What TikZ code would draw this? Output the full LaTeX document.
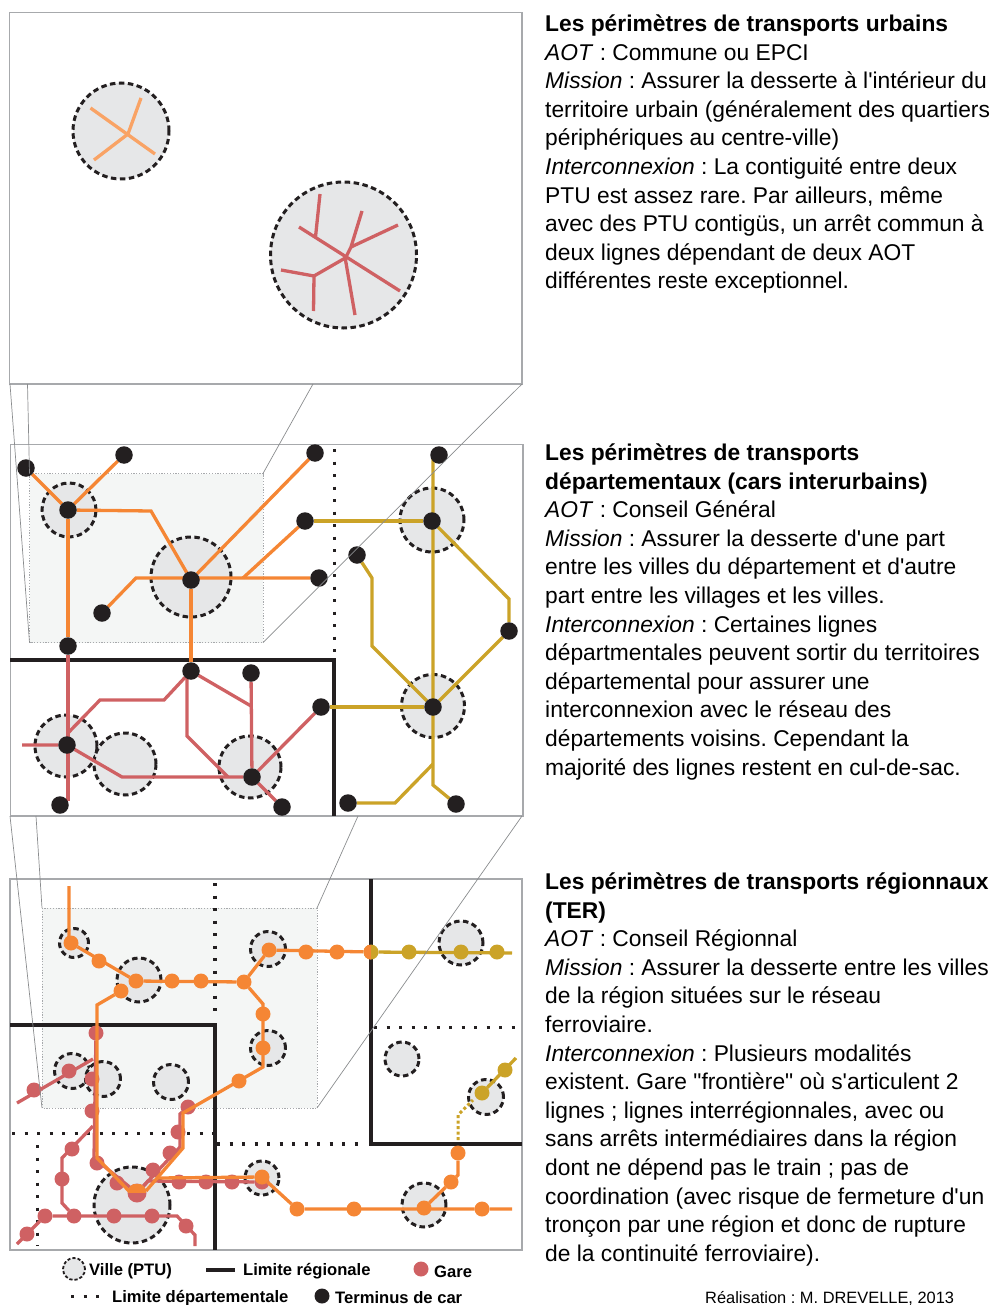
\documentclass[tikz,border=0pt]{standalone}
\usepackage{fontspec}
\setmainfont{Liberation Sans}[Ligatures=TeXOff]
\definecolor{noir}{HTML}{231F20}
\definecolor{cadre}{HTML}{A7A9AC}
\definecolor{trait}{HTML}{8A8C8E}
\definecolor{gris}{HTML}{E6E7E8}
\definecolor{clair}{HTML}{F4F6F5}
\definecolor{ptu}{HTML}{F9A365}
\definecolor{dept}{HTML}{F58634}
\definecolor{rouge}{HTML}{CF6163}
\definecolor{jaune}{HTML}{CBA328}
\pgfdeclarelayer{fond}
\pgfdeclarelayer{lignes}
\pgfsetlayers{fond,lignes,main}
\tikzset{
	panneau/.style={draw=cadre,line width=1.1pt},
	zone/.style={draw=cadre,fill=clair,line width=0.9pt,dash pattern=on 1.2pt off 1.6pt},
	zoomline/.style={draw=trait,line width=0.7pt},
	ville/.style={circle,draw=noir,fill=gris,line width=3pt,dash pattern=on 5.5pt off 3.5pt,minimum size=#1,inner sep=0pt,outer sep=0pt},
	region/.style={draw=noir,line width=3.4pt},
	limite/.style={draw=noir,line width=3.4pt,dash pattern=on 3.4pt off 9.1pt},
	terminus/.style={circle,fill=noir,minimum size=17.5pt,inner sep=0pt,outer sep=0pt},
	gare/.style={circle,fill=#1,minimum size=15pt,inner sep=0pt,outer sep=0pt},
	ligne/.style={draw=#1,line width=3.3pt,line join=miter},
	bloc/.style={anchor=north west,align=left,inner sep=0pt,font=\fontsize{22.8}{28.6}\selectfont\frenchspacing},
	legende/.style={anchor=west,inner sep=0pt,font=\fontsize{16.6}{20}\selectfont\bfseries}
}
\begin{document}
\begin{tikzpicture}[x=1pt,y=-1pt]
	\useasboundingbox (0,0) rectangle (993,1305);

	\begin{pgfonlayer}{fond}
		\draw[panneau] (9.5,12.5) rectangle (522,384);
		\node[ville=96pt] (ca) at (121,131) {};
		\node[ville=146pt] (cb) at (343.5,255) {};

		\draw[panneau] (10.5,444.5) rectangle (523,816);
		\draw[zone] (29.5,473.5) rectangle (263,642.5);
		\node[ville=54pt] (cc) at (69,510) {};
		\node[ville=80pt] (cd) at (191,577) {};
		\node[ville=64pt] (ce) at (432,520) {};
		\node[ville=63pt] (cf) at (433,706) {};
		\node[ville=62pt] (cg) at (66,746) {};
		\node[ville=62pt] (ch) at (125,764) {};
		\node[ville=62pt] (ci) at (250,767) {};
		\draw[region] (10,660) -- (334,660) -- (334,816);
		\draw[limite] (334.5,449) -- (334.5,656);

		\draw[panneau] (10,879) rectangle (522,1250);
		\draw[zone] (42,908) rectangle (317,1108);
		\node[ville=29pt] (cj) at (74,943) {};
		\node[ville=44pt] (ck) at (139,980) {};
		\node[ville=35pt] (cl) at (72,1071) {};
		\node[ville=35pt] (cm) at (103,1079) {};
		\node[ville=35pt] (cn) at (171,1082) {};
		\node[ville=76pt] (co) at (132,1205) {};
		\node[ville=34pt] (cp) at (262,1178) {};
		\node[ville=35pt] (cq) at (268,949) {};
		\node[ville=35pt] (cr) at (268,1048) {};
		\node[ville=44pt] (cs) at (461,943) {};
		\node[ville=34pt] (ct) at (402,1059) {};
		\node[ville=35pt] (cu) at (486,1097) {};
		\node[ville=44pt] (cv) at (424,1205) {};
		\draw[region] (10,1025) -- (215,1025) -- (215,1250);
		\draw[region] (371,879) -- (371,1144) -- (522,1144);
		\draw[limite] (215,883) -- (215,1020);
		\draw[limite] (12,1133.5) -- (215,1133.5);
		\draw[limite] (37.5,1145) -- (37.5,1246);
		\draw[limite] (217,1144) -- (358,1144);
		\draw[limite] (374,1027.5) -- (516,1027.5);
	\end{pgfonlayer}

	\draw[ligne=ptu] (90.5,108) -- (155,154);
	\draw[ligne=ptu] (94,160) -- (128,134) -- (141,98);
	\draw[ligne=rouge] (299,227) -- (400,291);
	\draw[ligne=rouge] (320,194) -- (315.5,237);
	\draw[ligne=rouge] (362,211) -- (351,247) -- (346,257);
	\draw[ligne=rouge] (351,247) -- (398,225);
	\draw[ligne=rouge] (345,257) -- (355,315);
	\draw[ligne=rouge] (347,257) -- (314,276) -- (281,270);
	\draw[ligne=rouge] (314,276) -- (313.5,311);

	\foreach \name/\x/\y in {ta/26/468,tb/124/455,tc/315/453,td/68/510,te/305/521,tf/191/580,tg/319/578,th/102/613,
		ti/68/646,tj/191/671,tk/251/673,tl/321/707,tm/67/745,tn/252/777,to/60/805,tp/282/807,
		tq/357/555,tr/432/521,ts/439/455,tt/509/631,tu/433/707,tv/348/803,tw/456/804}
		\node[terminus] (\name) at (\x,\y) {};

	\begin{pgfonlayer}{lignes}
		\draw[ligne=dept] (ta) -- (td) -- (tb);
		\draw[ligne=dept] (td) -- (151,511) -- (tf);
		\draw[ligne=dept] (td) -- (ti);
		\draw[ligne=dept] (tf) -- (tc);
		\draw[ligne=dept] (th) -- (136,578) -- (tg);
		\draw[ligne=dept] (243,578) -- (te);
		\draw[ligne=dept] (tf) -- (tj);

		\draw[ligne=rouge] (ti) -- (68,801);
		\draw[ligne=rouge] (22,745) -- (tm) -- (122,777) -- (tn);
		\draw[ligne=rouge] (68,733) -- (100,700) -- (164,700) -- (tj);
		\draw[ligne=rouge] (tj) -- (187,678) -- (187,736) -- (228,777);
		\draw[ligne=rouge] (tj) -- (251,706);
		\draw[ligne=rouge] (tk) -- (tn);
		\draw[ligne=rouge] (tn) -- (tl);
		\draw[ligne=rouge] (tn) -- (tp);

		\draw[ligne=jaune] (433,459) -- (433,785) -- (tw);
		\draw[ligne=jaune] (te) -- (tr);
		\draw[ligne=jaune] (tr) -- (509,599) -- (tt) -- (tu);
		\draw[ligne=jaune] (tq) -- (372,578) -- (372,646) -- (tu);
		\draw[ligne=jaune] (tl) -- (tu);
		\draw[ligne=jaune] (tv) -- (395,803) -- (433,764);
	\end{pgfonlayer}

	\foreach \name/\x/\y in {ra/34/1090,rb/69/1071,rc/96/1033,rd/92/1079,re/92/1111,rf/97/1163,rg/117/1183,
		ri/153/1170,rj/170/1153,rk/178/1132,rl/188/1107,rm/179/1182,rn/206/1182,ro/232/1182,rp/262/1182,
		rq/72/1149,rr/62/1179,rs/74/1216,rt/45/1216,ru/114/1216,rv/152/1216,rw/186/1226,rx/27/1234}
		\node[gare=rouge] (\name) at (\x,\y) {};
	\node[gare=rouge,minimum size=19pt,path picture={\fill[dept] (path picture bounding box.north west) rectangle (path picture bounding box.east);}] (rh) at (137,1193) {};

	\begin{pgfonlayer}{lignes}
		\draw[ligne=rouge] (17,1103) -- (93,1059);
		\draw[ligne=rouge] (rc) -- (94,1158) -- (rh);
		\draw[ligne=rouge] (93,1126) -- (62,1158) -- (62,1203) -- (rs);
		\draw[ligne=rouge] (17,1244) -- (rt) -- (177,1216) -- (195,1235) -- (195,1246);
		\draw[ligne=rouge] (rl) -- (180,1114) -- (180,1147) -- (rh);
		\draw[ligne=rouge] (rh) -- (148,1181) -- (rp);
	\end{pgfonlayer}

	\foreach \name/\x/\y in {oa/71/943,ob/99/961,oc/136/981,od/121/991,oe/172/981,of/201/981,og/244/982,oh/269/950,
		oi/263/1014,oj/263/1048,ok/239/1081,ol/306/952,om/337/952,on/262/1177,oo/297/1209,op/354/1209,oq/424/1208,
		or/482/1209,os/451/1182,ot/458/1153}
		\node[gare=dept] (\name) at (\x,\y) {};
	\node[gare=jaune,path picture={\fill[dept] (path picture bounding box.north west) rectangle (path picture bounding box.south);}] (fr) at (371,952) {};
	\foreach \name/\x/\y in {ja/409/952,jb/461/952,jc/497/952,jd/482/1093,je/505/1070}
		\node[gare=jaune] (\name) at (\x,\y) {};

	\draw[ligne=dept] (69,886) -- (69,940) -- (oa) -- (oc) -- (og) -- (oh) -- (fr);
	\draw[ligne=dept] (og) -- (263,1004) -- (263,1067) -- (183,1113) -- (183,1148) -- (146,1191);
	\draw[ligne=dept] (od) -- (97,1005) -- (97,1158) -- (129,1191);
	\draw[ligne=dept] (157,1178) -- (on) -- (oo) -- (or) -- (512,1209);
	\draw[ligne=dept] (oq) -- (os) -- (458,1175) -- (ot);
	\draw[ligne=jaune] (fr) -- (512,953);
	\draw[ligne=jaune] (jd) -- (516,1058);
	\draw[line width=3pt,draw=jaune,dash pattern=on 3pt off 2.5pt] (458,1140) -- (458,1115) -- (473,1100);

	\draw[zoomline] (10,384) -- (29.5,642.5);
	\draw[zoomline] (27.5,384) -- (29.5,473.5);
	\draw[zoomline] (313,384) -- (263,473.5);
	\draw[zoomline] (522,384) -- (263,642.5);
	\draw[zoomline] (10,816) -- (42,1108);
	\draw[zoomline] (36,816) -- (42,908);
	\draw[zoomline] (358,816) -- (317,908);
	\draw[zoomline] (522,816) -- (317,1108);

	\node[bloc] (urbains) at (545,14.5) {\textbf{Les périmètres de transports urbains}\\
		\textit{AOT} : Commune ou EPCI\\
		\textit{Mission} : Assurer la desserte à l'intérieur du\\
		territoire urbain (généralement des quartiers\\
		périphériques au centre-ville)\\
		\textit{Interconnexion} : La contiguité entre deux\\
		PTU est assez rare. Par ailleurs, même\\
		avec des PTU contigüs, un arrêt commun à\\
		deux lignes dépendant de deux AOT\\
		différentes reste exceptionnel.};
	\node[bloc] (departements) at (545,443.5) {\textbf{Les périmètres de transports}\\
		\textbf{départementaux (cars interurbains)}\\
		\textit{AOT} : Conseil Général\\
		\textit{Mission} : Assurer la desserte d'une part\\
		entre les villes du département et d'autre\\
		part entre les villages et les villes.\\
		\textit{Interconnexion} : Certaines lignes\\
		départmentales peuvent sortir du territoires\\
		départemental pour assurer une\\
		interconnexion avec le réseau des\\
		départements voisins. Cependant la\\
		majorité des lignes restent en cul-de-sac.};
	\node[bloc] (regions) at (545,872.5) {\textbf{Les périmètres de transports régionnaux}\\
		\textbf{(TER)}\\
		\textit{AOT} : Conseil Régionnal\\
		\textit{Mission} : Assurer la desserte entre les villes\\
		de la région situées sur le réseau\\
		ferroviaire.\\
		\textit{Interconnexion} : Plusieurs modalités\\
		existent. Gare "frontière" où s'articulent 2\\
		lignes ; lignes interrégionnales, avec ou\\
		sans arrêts intermédiaires dans la région\\
		dont ne dépend pas le train ; pas de\\
		coordination (avec risque de fermeture d'un\\
		tronçon par une région et donc de rupture\\
		de la continuité ferroviaire).};

	\node[ville=22pt,line width=1.8pt,dash pattern=on 3.2pt off 2pt] (leg ville) at (74,1269) {};
	\node[legende] (txt ville) at (89,1271.5) {Ville (PTU)};
	\coordinate (leg a) at (206,1270);
	\coordinate (leg b) at (235,1270);
	\draw[region] (leg a) -- (leg b);
	\node[legende] (txt region) at (243,1271.5) {Limite régionale};
	\node[gare=rouge] (leg gare) at (421,1269) {};
	\node[legende] (txt gare) at (434,1271.5) {Gare};
	\coordinate (leg c) at (71,1296.5);
	\coordinate (leg d) at (102,1296.5);
	\draw[limite] (leg c) -- (leg d);
	\node[legende] (txt limite) at (112,1298) {Limite départementale};
	\node[terminus,minimum size=15pt] (leg term) at (322,1296) {};
	\node[legende] (txt term) at (335,1298) {Terminus de car};
	\node[anchor=west,inner sep=0pt,font=\fontsize{16.4}{18}\selectfont\frenchspacing] (credit) at (705,1298) {Réalisation : M. DREVELLE, 2013};
\end{tikzpicture}
\end{document}
